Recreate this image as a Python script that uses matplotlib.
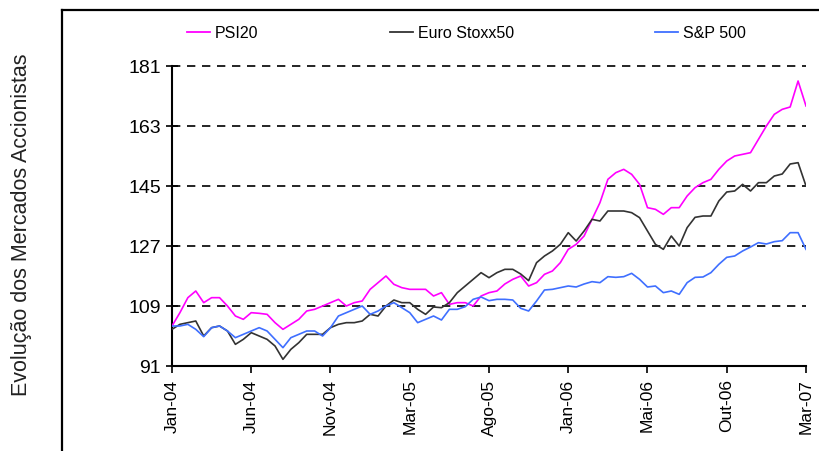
import matplotlib.pyplot as plt
from matplotlib.lines import Line2D
import numpy as np

# fortnightly readings, Jan-04 .. Mar-07
psi20 = [103, 107, 111.5, 113.5, 110, 111.5, 111.5, 109, 106, 105,
         107, 106.8, 106.5, 104, 102, 103.5, 105, 107.5, 108, 109,
         110, 111, 109, 110, 110.5, 114, 116, 118, 115.5, 114.5,
         114, 114, 114, 112, 113, 109.5, 110, 110, 109, 112,
         113, 113.5, 115.6, 117, 118, 115, 116, 118.5, 119.5, 122,
         126, 127.5, 130, 135, 140, 147, 149, 150, 148.5, 145.5,
         138.5, 138, 136.5, 138.5, 138.5, 142, 144.5, 146, 147, 150,
         152.5, 154, 154.5, 155, 159, 163, 166.5, 168, 168.7, 176.5,
         169]
stoxx50 = [102, 103.5, 104, 104.5, 100, 102.5, 103, 101.5, 97.5, 99,
           101, 100, 99, 97, 93, 96, 98, 100.5, 100.5, 100.5,
           102.5, 103.5, 104, 104, 104.5, 106.5, 106, 109, 110.8, 110,
           110, 108, 106.5, 108.7, 108.5, 110, 113, 115, 117, 119,
           117.5, 119, 120, 120, 118.6, 116.6, 122, 124, 125.5, 127.5,
           131, 128.5, 131.5, 135, 134.5, 137.5, 137.5, 137.5, 137, 135.5,
           131.5, 127.5, 126, 130, 127, 132.5, 135.6, 136, 136, 140.5,
           143.2, 143.5, 145.5, 143.5, 146, 146, 148, 148.6, 151.6, 152,
           145]
sp500 = [103, 103, 103.5, 102, 99.8, 102.5, 103, 101.5, 99.5, 100.5,
         101.5, 102.5, 101.5, 99, 96.5, 99.5, 100.5, 101.5, 101.5, 100,
         102.5, 106, 107, 108, 109, 106.5, 107.5, 109, 110, 108.5,
         107, 104, 105, 106, 104.8, 108, 108, 108.8, 111, 111.7,
         110.6, 111, 111, 110.8, 108.3, 107.5, 110.5, 113.8, 114, 114.5,
         115, 114.7, 115.6, 116.3, 116, 117.8, 117.6, 117.8, 118.8, 117,
         114.7, 115, 113, 113.5, 112.5, 116, 117.6, 117.7, 119, 121.5,
         123.6, 124, 125.5, 126.7, 128, 127.6, 128.3, 128.6, 131, 131,
         126]
series_names = ["PSI20", "Euro Stoxx50", "S&P 500"]
month_labels = ["Jan-04", "Jun-04", "Nov-04", "Mar-05", "Ago-05",
                "Jan-06", "Mai-06", "Out-06", "Mar-07"]
y_ticks = [91, 109, 127, 145, 163, 181]

COLORS = ["#FF00FF", "#333333", "#3F6FFF"]
FONT = "Liberation Sans"

fig = plt.figure(figsize=(8.2, 4.52), dpi=100)
fig.patch.set_facecolor("white")

# outer frame (runs off the right and bottom edges)
fig.add_artist(Line2D([62 / 820, 1.0], [1 - 11 / 452, 1 - 11 / 452],
                      color="black", lw=1.6, transform=fig.transFigure))
fig.add_artist(Line2D([62 / 820, 62 / 820], [0, 1 - 11 / 452],
                      color="black", lw=1.6, transform=fig.transFigure))

ax = fig.add_axes([172 / 820, 85 / 452, 634 / 820, 300 / 452])
x = np.arange(len(psi20))
for vals, col in zip([psi20, stoxx50, sp500], COLORS):
    ax.plot(x, vals, color=col, lw=1.2, zorder=3)

ax.set_xlim(0, len(psi20) - 1)
ax.set_ylim(91, 181)
ax.set_yticks(y_ticks)
ax.set_yticklabels([str(v) for v in y_ticks], fontsize=14, family=FONT)
ax.set_xticks(np.linspace(0, len(psi20) - 1, len(month_labels)))
ax.set_xticklabels(month_labels, rotation=90, fontsize=12.5, family=FONT)

for v in y_ticks[1:]:
    ax.axhline(v, color="black", lw=1.2, ls=(0, (5, 4)), zorder=2,
               clip_on=False)

for s in ["top", "right"]:
    ax.spines[s].set_visible(False)
ax.spines["left"].set_linewidth(1.5)
ax.spines["bottom"].set_linewidth(1.5)
ax.tick_params(axis="y", direction="inout", length=8, width=1.2, pad=4)
ax.tick_params(axis="x", direction="out", length=5, width=1.2, pad=4)

fig.text(22 / 820, 1 - 225 / 452, "Evolução dos Mercados Accionistas",
         rotation=90, ha="center", va="center", fontsize=15.5,
         family=FONT, color="#222222")

# legend along the top
leg_x = [187, 390, 655]
for lx, name, col in zip(leg_x, series_names, COLORS):
    fig.add_artist(Line2D([lx / 820, (lx + 23) / 820],
                          [1 - 33 / 452, 1 - 33 / 452], color=col, lw=1.3,
                          transform=fig.transFigure))
    fig.text((lx + 28) / 820, 1 - 33 / 452, name, ha="left", va="center",
             fontsize=11.5, family=FONT)

fig.savefig("out.png", dpi=100, facecolor="white")
